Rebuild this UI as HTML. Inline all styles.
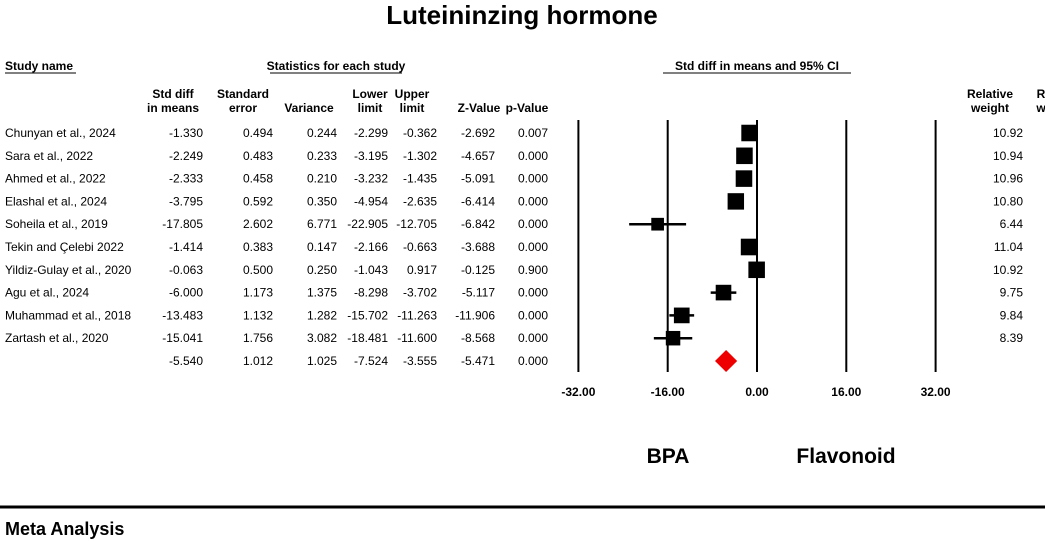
<!DOCTYPE html>
<html><head><meta charset="utf-8"><style>
body{margin:0;background:#fff;}
svg{display:block;font-family:"Liberation Sans",Arial,sans-serif;}
</style></head><body>
<svg id="c" width="1045" height="542">
<text x="522" y="24" font-size="26" font-weight="bold" text-anchor="middle">Luteininzing hormone</text>
<g font-size="12" font-weight="bold">
<text x="5" y="70">Study name</text>
<line x1="5" y1="73" x2="76" y2="73" stroke="#000"/>
<text x="336" y="70" text-anchor="middle">Statistics for each study</text>
<line x1="270" y1="73" x2="402" y2="73" stroke="#000"/>
<text x="757" y="70" text-anchor="middle">Std diff in means and 95% CI</text>
<line x1="663" y1="73" x2="851" y2="73" stroke="#000"/>
</g>
<g id="hdr" font-size="12" font-weight="bold" text-anchor="middle"></g>
<g id="rows" font-size="12"></g>
<g id="plot"></g>
<text x="668" y="463" font-size="21" font-weight="bold" text-anchor="middle">BPA</text>
<text x="846" y="463" font-size="21" font-weight="bold" text-anchor="middle">Flavonoid</text>
<line x1="0" y1="507" x2="1045" y2="507" stroke="#000" stroke-width="3"/>
<text x="5" y="535" font-size="18" font-weight="bold">Meta Analysis</text>
</svg>
<script>
const studies=["Chunyan et al., 2024","Sara et al., 2022","Ahmed et al., 2022","Elashal et al., 2024","Soheila et al., 2019","Tekin and Çelebi 2022","Yildiz-Gulay et al., 2020","Agu et al., 2024","Muhammad et al., 2018","Zartash et al., 2020",""];
const smd=[-1.330,-2.249,-2.333,-3.795,-17.805,-1.414,-0.063,-6.000,-13.483,-15.041,-5.540];
const se=[0.494,0.483,0.458,0.592,2.602,0.383,0.500,1.173,1.132,1.756,1.012];
const variance=[0.244,0.233,0.210,0.350,6.771,0.147,0.250,1.375,1.282,3.082,1.025];
const lower=[-2.299,-3.195,-3.232,-4.954,-22.905,-2.166,-1.043,-8.298,-15.702,-18.481,-7.524];
const upper=[-0.362,-1.302,-1.435,-2.635,-12.705,-0.663,0.917,-3.702,-11.263,-11.600,-3.555];
const zval=[-2.692,-4.657,-5.091,-6.414,-6.842,-3.688,-0.125,-5.117,-11.906,-8.568,-5.471];
const pval=[0.007,0.000,0.000,0.000,0.000,0.000,0.900,0.000,0.000,0.000,0.000];
const weight=[10.92,10.94,10.96,10.80,6.44,11.04,10.92,9.75,9.84,8.39,null];
const ticks=[-32,-16,0,16,32];
const NS="http://www.w3.org/2000/svg";
function mk(p,t,a,txt){const e=document.createElementNS(NS,t);for(const k in a)e.setAttribute(k,a[k]);if(txt!=null)e.textContent=txt;p.appendChild(e);return e;}
const X=v=>757+v*(89.3/16);
const Y=i=>133+i*22.8;
const hdr=document.getElementById('hdr');
const heads=[[173,"Std diff","in means"],[243,"Standard","error"],[309,"","Variance"],[370,"Lower","limit"],[412,"Upper","limit"],[479,"","Z-Value"],[527,"","p-Value"],[990,"Relative","weight"],[1041,"R","w"]];
heads.forEach(h=>{
 if(h[1]){const t=mk(hdr,'text',{x:h[0],y:98},h[1]);
 
 }
 const t2=mk(hdr,'text',{x:h[0],y:112},h[2]);
 
 
});
const rows=document.getElementById('rows');
const cols=[[203,smd],[273,se],[337,variance],[388,lower],[437,upper],[495,zval],[548,pval]];
studies.forEach((s,i)=>{
 const y=Y(i)+4;
 const n=mk(rows,'text',{x:5,y:y},s);
 
 
 cols.forEach(c=>{const t=mk(rows,'text',{x:c[0],y:y,'text-anchor':'end'},c[1][i].toFixed(3));
 
 });
 if(weight[i]!=null){const w=mk(rows,'text',{x:1023,y:y,'text-anchor':'end'},weight[i].toFixed(2));
 
 }
});
const plot=document.getElementById('plot');
ticks.forEach(t=>{
 const l=mk(plot,'line',{x1:X(t),x2:X(t),y1:120,y2:372,stroke:'#000','stroke-width':2});
 
 
 const tx=mk(plot,'text',{x:X(t),y:396,'font-size':12,'font-weight':'bold','text-anchor':'middle'},t.toFixed(2));
 
 
});
smd.forEach((v,i)=>{
 const y=Y(i);
 if(i<10){
  const l=mk(plot,'line',{x1:X(lower[i]),x2:X(upper[i]),y1:y,y2:y,stroke:'#000','stroke-width':2.5});
  
  
  const s=Math.sqrt(weight[i])*5;
  const r=mk(plot,'rect',{x:X(v)-s/2,y:y-s/2,width:s,height:s,fill:'#000'});
  
  
 } else {
  const x1=X(lower[i]),x2=X(upper[i]),xc=X(v);
  const d=mk(plot,'polygon',{points:`${x1},${y} ${xc},${y-11} ${x2},${y} ${xc},${y+11}`,fill:'#e00'});
  
  
 }
});
</script>
</body></html>
